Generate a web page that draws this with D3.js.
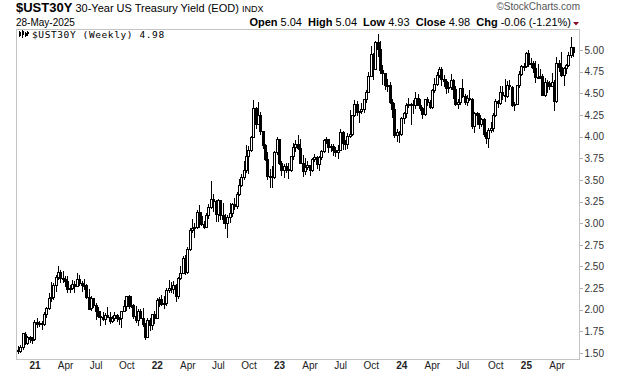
<!DOCTYPE html>
<html><head><meta charset="utf-8">
<script src="https://cdn.jsdelivr.net/npm/d3@7"></script>
<style>
html,body{margin:0;padding:0;background:#fff;}
svg{display:block;font-family:"Liberation Sans",Arial,sans-serif;}
</style></head><body>
<svg id="chart" width="620" height="376"></svg>
<script>
// ---- data (weekly bars, first bar = week of Monday 2020-11-16) ----
const firstWeek = "2020-11-16";
const open = [
1.53,1.52,1.57,1.72,1.62,1.68,1.66,
1.66,1.86,1.84,1.85,1.83,1.95,2.02,2.13,2.15,2.29,2.38,2.44,2.37,
2.35,2.33,2.25,2.25,2.30,2.28,2.36,2.31,2.29,2.29,2.15,2.02,2.14,
2.06,1.99,1.93,1.92,1.89,1.94,1.92,1.87,1.91,1.94,1.91,1.91,
1.98,2.04,2.16,2.04,2.06,1.93,1.88,1.99,1.91,1.83,1.68,1.88,1.82,1.95,
1.90,2.11,2.12,2.07,2.08,2.23,2.25,2.24,2.29,2.16,2.37,2.42,2.60,
2.44,2.70,2.92,2.95,2.96,3.13,3.08,2.99,2.96,3.09,3.19,3.28,3.26,
3.11,3.27,3.09,3.05,3.00,3.07,3.12,3.22,3.20,3.34,3.44,3.53,3.61,
3.78,3.85,3.99,4.33,4.15,4.25,4.06,3.90,3.74,3.55,3.55,3.53,3.82,
3.97,3.69,3.61,3.66,3.63,3.62,3.78,3.88,3.92,3.87,3.70,3.60,3.65,
3.67,3.61,3.74,3.77,3.68,3.77,3.83,3.96,3.97,3.88,3.89,3.85,3.82,
3.85,4.05,3.93,3.91,4.01,4.03,4.25,4.38,4.29,4.30,4.32,4.43,4.52,
4.70,4.95,4.78,5.09,5.01,4.77,4.74,4.60,4.60,4.40,4.32,4.02,4.05,
4.03,4.21,4.27,4.37,4.38,4.38,4.37,4.45,4.37,4.33,4.26,4.43,4.40,
4.34,4.54,4.61,4.71,4.78,4.66,4.64,4.56,4.57,4.65,4.55,4.38,4.40,
4.56,4.47,4.40,4.45,4.43,4.12,4.27,4.25,4.14,4.20,4.03,3.98,4.08,4.10,
4.25,4.41,4.39,4.51,4.48,4.47,4.60,4.57,4.36,4.38,4.60,4.72,4.82,
4.81,4.96,4.84,4.85,4.79,4.69,4.69,4.70,4.48,4.63,4.62,4.59,4.63,
4.41,4.85,4.80,4.71,4.79,4.83,4.94,5.04];
const high = [
1.58,1.59,1.73,1.74,1.70,1.70,1.68,
1.88,1.90,1.87,1.87,1.97,2.03,2.19,2.32,2.31,2.40,2.51,2.46,2.45,
2.39,2.39,2.29,2.34,2.33,2.43,2.40,2.33,2.36,2.30,2.24,2.16,2.14,
2.08,2.03,1.98,1.97,1.96,2.03,1.97,1.93,1.97,1.95,1.92,1.99,
2.11,2.16,2.17,2.16,2.07,2.04,2.01,2.01,2.02,1.85,1.91,1.90,1.95,1.98,
2.13,2.15,2.17,2.16,2.25,2.34,2.32,2.33,2.30,2.38,2.50,2.62,2.63,
2.73,2.94,3.05,3.00,3.15,3.21,3.13,3.02,3.12,3.22,3.49,3.34,3.27,
3.28,3.27,3.23,3.11,3.10,3.23,3.23,3.29,3.36,3.51,3.57,3.72,3.90,
3.89,4.01,4.42,4.34,4.40,4.28,4.07,3.92,3.82,3.63,3.66,3.83,3.99,
3.97,3.72,3.68,3.70,3.70,3.78,3.93,3.96,4.02,3.97,3.79,3.75,3.72,
3.67,3.75,3.80,3.78,3.78,3.84,3.97,4.00,3.97,3.92,3.92,3.88,3.90,
4.09,4.07,3.96,4.04,4.31,4.25,4.42,4.41,4.30,4.39,4.43,4.54,4.75,
5.05,4.96,5.11,5.18,5.11,4.83,4.74,4.66,4.63,4.44,4.39,4.09,4.07,
4.23,4.28,4.39,4.45,4.39,4.42,4.51,4.49,4.44,4.34,4.44,4.46,4.42,
4.55,4.68,4.75,4.80,4.80,4.71,4.66,4.63,4.72,4.66,4.59,4.43,4.56,
4.66,4.49,4.48,4.54,4.45,4.29,4.29,4.27,4.21,4.21,4.05,4.10,4.17,4.27,
4.43,4.42,4.59,4.59,4.66,4.64,4.65,4.58,4.40,4.60,4.76,4.83,4.85,
4.98,5.00,4.91,4.87,4.87,4.84,4.78,4.72,4.68,4.65,4.64,4.73,4.65,
4.92,4.88,4.98,4.80,4.84,4.98,5.15,5.04];
const low = [
1.50,1.51,1.55,1.60,1.61,1.63,1.62,
1.65,1.80,1.81,1.78,1.82,1.92,2.01,2.10,2.12,2.22,2.36,2.32,2.32,
2.28,2.21,2.21,2.24,2.20,2.27,2.29,2.22,2.24,2.14,2.01,2.00,2.03,
1.89,1.92,1.82,1.88,1.83,1.92,1.85,1.86,1.88,1.87,1.83,1.80,
1.98,2.00,2.02,2.03,1.91,1.86,1.82,1.90,1.81,1.66,1.68,1.77,1.78,1.85,
1.90,2.04,2.05,2.02,2.06,2.20,2.21,2.19,2.10,2.14,2.35,2.42,2.41,
2.43,2.69,2.90,2.84,2.95,2.96,2.98,2.94,2.96,3.06,3.18,3.14,3.03,
3.03,3.05,3.00,2.94,2.84,3.01,3.08,3.16,3.17,3.32,3.43,3.51,3.59,
3.58,3.83,3.99,4.10,4.14,4.03,3.87,3.73,3.51,3.42,3.42,3.52,3.80,
3.68,3.56,3.53,3.59,3.52,3.60,3.74,3.83,3.86,3.69,3.55,3.57,3.63,
3.56,3.60,3.72,3.64,3.62,3.74,3.82,3.93,3.82,3.83,3.79,3.78,3.75,
3.84,3.86,3.86,3.87,4.00,4.02,4.24,4.25,4.17,4.27,4.29,4.40,4.52,
4.70,4.67,4.78,4.93,4.74,4.61,4.55,4.53,4.39,4.23,4.00,3.95,3.94,
4.02,4.16,4.23,4.34,4.14,4.27,4.33,4.36,4.31,4.21,4.25,4.37,4.33,
4.33,4.52,4.60,4.69,4.60,4.59,4.50,4.52,4.55,4.45,4.37,4.33,4.38,
4.46,4.38,4.37,4.42,4.10,4.05,4.15,4.10,4.12,4.01,3.93,3.88,4.05,4.07,
4.24,4.34,4.38,4.44,4.41,4.46,4.55,4.35,4.31,4.38,4.57,4.71,4.77,
4.80,4.82,4.80,4.75,4.63,4.68,4.68,4.48,4.47,4.52,4.55,4.58,4.31,
4.40,4.76,4.70,4.60,4.73,4.82,4.92,4.93];
const close = [
1.52,1.57,1.73,1.62,1.69,1.66,1.65,
1.86,1.84,1.85,1.83,1.95,2.02,2.13,2.15,2.29,2.38,2.44,2.37,2.35,
2.33,2.24,2.25,2.30,2.28,2.36,2.31,2.29,2.29,2.15,2.01,2.14,2.06,
1.99,1.93,1.92,1.89,1.94,1.92,1.87,1.91,1.94,1.91,1.91,1.98,
2.04,2.16,2.04,2.06,1.93,1.88,1.99,1.91,1.83,1.68,1.88,1.82,1.95,1.90,
2.11,2.12,2.07,2.08,2.23,2.25,2.24,2.29,2.16,2.37,2.42,2.60,2.44,
2.70,2.92,2.95,2.96,3.13,3.08,2.99,2.96,3.09,3.19,3.28,3.26,3.11,
3.27,3.09,3.05,3.00,3.07,3.12,3.22,3.20,3.34,3.44,3.53,3.61,3.78,
3.85,3.99,4.33,4.15,4.25,4.06,3.90,3.74,3.55,3.55,3.53,3.82,3.97,
3.69,3.61,3.66,3.63,3.62,3.78,3.88,3.92,3.87,3.70,3.60,3.65,3.67,
3.61,3.74,3.77,3.68,3.77,3.83,3.96,3.97,3.88,3.89,3.85,3.82,3.85,
4.05,3.93,3.91,4.01,4.03,4.25,4.38,4.29,4.30,4.32,4.43,4.52,4.70,
4.95,4.78,5.09,5.01,4.77,4.74,4.60,4.60,4.40,4.32,4.02,4.05,4.03,
4.21,4.27,4.37,4.38,4.38,4.37,4.45,4.37,4.33,4.26,4.43,4.40,4.34,
4.54,4.61,4.71,4.78,4.66,4.64,4.56,4.57,4.65,4.55,4.38,4.40,4.56,
4.47,4.40,4.45,4.43,4.12,4.27,4.25,4.14,4.20,4.03,3.98,4.08,4.10,4.25,
4.41,4.39,4.51,4.48,4.47,4.60,4.59,4.36,4.38,4.60,4.72,4.82,4.81,
4.96,4.84,4.85,4.79,4.69,4.69,4.70,4.48,4.63,4.62,4.59,4.63,4.41,
4.85,4.80,4.71,4.79,4.83,4.94,5.04,4.98];

const yTicks = [1.50,1.75,2.00,2.25,2.50,2.75,3.00,3.25,3.50,3.75,4.00,4.25,4.50,4.75,5.00];
const xTickMonths = ["2021-01","2021-04","2021-07","2021-10","2022-01","2022-04","2022-07","2022-10",
  "2023-01","2023-04","2023-07","2023-10","2024-01","2024-04","2024-07","2024-10","2025-01","2025-04"];
const xTickLabels = ["21","Apr","Jul","Oct","22","Apr","Jul","Oct","23","Apr","Jul","Oct","24","Apr","Jul","Oct","25","Apr"];

// ---- layout ----
const svg = d3.select("#chart");
const L = 16, R = 579, T = 29, B = 359;
const parse = d3.timeParse("%Y-%m-%d");
const start = parse(firstWeek);
const weeks = d3.timeMonday.range(start, d3.timeDay.offset(start, open.length * 7)).slice(0, open.length);

const x = d3.scaleTime()
  .domain([d3.timeDay.offset(start, -6), d3.timeDay.offset(weeks[weeks.length - 1], 18)])
  .range([L, R]);
const y = d3.scaleLinear().domain([1.431, 5.243]).range([B, T]);

// frame
svg.append("rect").attr("x", L + 0.5).attr("y", T + 0.5).attr("width", R - L).attr("height", B - T)
  .attr("fill", "#fff").attr("stroke", "#c4c4c4").attr("shape-rendering", "crispEdges");

// y axis (right)
const yAxis = d3.axisRight(y).tickValues(yTicks).tickFormat(d3.format(".2f")).tickSize(3).tickPadding(2);
const gy = svg.append("g").attr("transform", `translate(${R + 0.5},0)`).call(yAxis);
gy.select(".domain").remove();
gy.selectAll(".tick line").attr("stroke", "#b0b0b0").attr("shape-rendering", "crispEdges");
gy.selectAll(".tick text").attr("fill", "#333").attr("font-size", 10)
  .attr("font-family", "Liberation Sans, Arial, sans-serif");

// x axis labels at the first weekly bar of each quarter month
const tickDates = xTickMonths.map(m => {
  const md = d3.timeParse("%Y-%m")(m);
  return weeks.find(w => w >= md);
});
const xAxis = d3.axisBottom(x).tickValues(tickDates).tickFormat((d, i) => xTickLabels[i]).tickSize(0).tickPadding(3);
const gx = svg.append("g").attr("transform", `translate(0,${B})`).call(xAxis);
gx.select(".domain").remove();
gx.selectAll(".tick text").attr("fill", "#222").attr("font-size", 10)
  .attr("font-family", "Liberation Sans, Arial, sans-serif")
  .attr("font-weight", (d, i) => /^\d/.test(xTickLabels[i]) ? "bold" : "normal");

// candles
const idx = d3.range(open.length);
const g = svg.append("g").attr("shape-rendering", "crispEdges");
const cx = i => Math.round(x(weeks[i]));
g.selectAll("line.wick").data(idx).join("line").attr("class", "wick")
  .attr("x1", i => cx(i) + 0.5).attr("x2", i => cx(i) + 0.5)
  .attr("y1", i => Math.round(y(high[i]))).attr("y2", i => Math.round(y(low[i])) + 1)
  .attr("stroke", "#000").attr("stroke-width", 1);
g.selectAll("rect.body").data(idx).join("rect").attr("class", "body")
  .each(function (i) {
    const top = Math.round(y(Math.max(open[i], close[i])));
    const bot = Math.round(y(Math.min(open[i], close[i])));
    const s = d3.select(this);
    if (close[i] >= open[i]) {
      s.attr("x", cx(i) - 0.5).attr("y", top + 0.5).attr("width", 2).attr("height", Math.max(bot - top, 1))
        .attr("fill", "#fff").attr("stroke", "#000").attr("stroke-width", 1);
    } else {
      s.attr("x", cx(i) - 1).attr("y", top).attr("width", 3).attr("height", Math.max(bot - top, 1) + 1)
        .attr("fill", "#000");
    }
  });

// legend inside plot
const icon = svg.append("g").attr("shape-rendering", "crispEdges");
[[19, 31, 37, 32, 36], [22, 30, 38, 31, 35], [25, 32, 37, 33, 36], [27, 31, 36, 32, 34]].forEach(([ix, hi, lo, bt, bb]) => {
  icon.append("line").attr("x1", ix + 0.5).attr("x2", ix + 0.5).attr("y1", hi).attr("y2", lo).attr("stroke", "#000");
  icon.append("rect").attr("x", ix - 0.5).attr("y", bt).attr("width", 2).attr("height", bb - bt).attr("fill", "#000");
});
svg.append("text").attr("x", 32).attr("y", 38).attr("font-family", "DejaVu Sans Mono, monospace")
  .attr("font-size", 9.5).attr("letter-spacing", 0.6).attr("fill", "#000").text("$UST30Y (Weekly) 4.98");

// header
const h1 = svg.append("text").attr("x", 16).attr("y", 12).attr("fill", "#000");
h1.append("tspan").attr("font-weight", "bold").attr("font-size", 13).text("$UST30Y");
h1.append("tspan").attr("font-size", 11).text(" 30-Year US Treasury Yield (EOD) ");
h1.append("tspan").attr("font-size", 9).text("INDX");
svg.append("text").attr("x", 16).attr("y", 26).attr("font-size", 10).attr("fill", "#000").text("28-May-2025");
svg.append("text").attr("x", 580).attr("y", 10).attr("text-anchor", "end").attr("font-size", 10)
  .attr("fill", "#555").text("\u00A9StockCharts.com");

const stats = [["Open", "5.04"], ["High", "5.04"], ["Low", "4.93"], ["Close", "4.98"], ["Chg", "-0.06 (-1.21%)"]];
const h2 = svg.append("text").attr("x", 571).attr("y", 26).attr("text-anchor", "end").attr("font-size", 11).attr("fill", "#000");
stats.forEach(([k, v], i) => {
  h2.append("tspan").attr("font-weight", "bold").text((i ? "  " : "") + k);
  h2.append("tspan").text(" " + v);
});
h2.attr("xml:space", "preserve");
svg.append("path").attr("d", "M573,22 L579,22 L576,25.5 Z").attr("fill", "#8b0a2a");
</script>
</body></html>
